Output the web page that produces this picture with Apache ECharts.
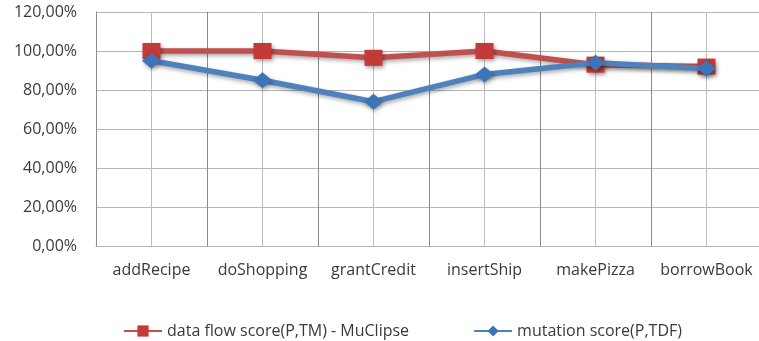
<!DOCTYPE html>
<html>
<head>
<meta charset="utf-8">
<script src="https://cdn.jsdelivr.net/npm/echarts@6/dist/echarts.min.js"></script>
<style>
  html, body { margin: 0; padding: 0; background: #ffffff; }
  #chart { width: 759px; height: 341px; }
</style>
</head>
<body>
<div id="chart"></div>
<script>
// Scores per program, in percent
const categories = ['addRecipe', 'doShopping', 'grantCredit', 'insertShip', 'makePizza', 'borrowBook'];
const dataFlowScore = [100, 100, 96.5, 100, 93, 92];
const mutationScore = [95, 85, 74, 88, 94, 91];
const yTicks = { min: 0, max: 120, interval: 20 };

const seriesNames = ['data flow score(P,TM) - MuClipse', 'mutation score(P,TDF)'];
const FONT = '"Open Sans", sans-serif';
const TEXT = '#3a3a3a';

const GRID = { left: 96, right: -3, top: 12, bottom: 95, containLabel: false, outerBoundsMode: 'none' };

const chart = echarts.init(document.getElementById('chart'), null, { renderer: 'canvas' });

const shadow = {
  shadowColor: 'rgba(0,0,0,0.35)',
  shadowBlur: 4,
  shadowOffsetX: 1,
  shadowOffsetY: 2
};

chart.setOption({
  animation: false,
  backgroundColor: '#ffffff',
  textStyle: { fontFamily: FONT },
  grid: GRID,
  legend: {
    left: 118,
    top: 318,
    itemWidth: 38,
    itemHeight: 14,
    itemGap: 64,
    textStyle: { fontFamily: FONT, fontSize: 16, color: TEXT },
    data: seriesNames
  },
  xAxis: {
    type: 'category',
    data: categories,
    boundaryGap: true,
    axisLine: { show: true, lineStyle: { color: '#b6b6b6', width: 1 } },
    axisTick: { show: false },
    axisLabel: { margin: 16, fontSize: 16, color: TEXT, fontFamily: FONT, interval: 0 },
    // darker lines between programs
    splitLine: { show: true, interval: 0, lineStyle: { color: '#8a8a8a', width: 1 } }
  },
  yAxis: {
    type: 'value',
    min: yTicks.min,
    max: yTicks.max,
    interval: yTicks.interval,
    axisLine: { show: true, lineStyle: { color: '#8a8a8a', width: 1 } },
    axisTick: { show: false },
    axisLabel: {
      margin: 19,
      fontSize: 16,
      color: TEXT,
      fontFamily: FONT,
      formatter: v => v.toFixed(2).replace('.', ',') + '%'
    },
    splitLine: { show: true, lineStyle: { color: '#b6b6b6', width: 1 } }
  },
  series: [
    {
      name: seriesNames[0],
      type: 'line',
      data: dataFlowScore,
      symbol: 'rect',
      symbolSize: [18, 16],
      lineStyle: Object.assign({ color: '#c0504d', width: 5.5 }, shadow),
      itemStyle: Object.assign({ color: '#c23b37' }, shadow),
      z: 2,
      // light full-height lines through each program
      markLine: {
        silent: true,
        symbol: ['none', 'none'],
        z: 1,
        label: { show: false },
        lineStyle: { color: '#bdbdbd', width: 1, type: 'solid', shadowBlur: 0, shadowColor: 'transparent' },
        emphasis: { disabled: true },
        data: categories.map(c => ({ xAxis: c }))
      }
    },
    {
      name: seriesNames[1],
      type: 'line',
      data: mutationScore,
      symbol: 'diamond',
      symbolSize: [19, 16],
      lineStyle: Object.assign({ color: '#4f81bd', width: 5.5 }, shadow),
      itemStyle: Object.assign({ color: '#3d74b8' }, shadow),
      z: 3
    }
  ]
});
</script>
</body>
</html>
